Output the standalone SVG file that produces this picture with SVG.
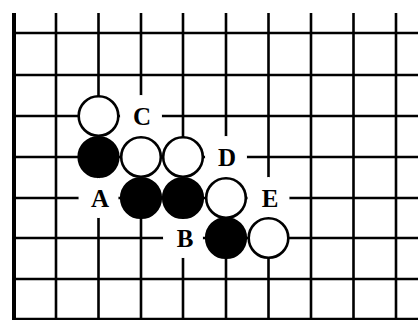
<svg xmlns="http://www.w3.org/2000/svg" width="418" height="320" viewBox="0 0 418 320">
<style>
.g{stroke:#000;stroke-width:2.6;fill:none}
.edge{stroke:#000;stroke-width:4;fill:none}
.w{fill:#fff;stroke:#000;stroke-width:2.6}
.b{fill:#000;stroke:#000;stroke-width:2.6}
.m{fill:#fff;stroke:none}
.t{font-family:"Liberation Serif","Times New Roman",serif;font-weight:bold;font-size:25px;text-anchor:middle;fill:#000}
</style>
<rect width="418" height="320" fill="#fff"/>
<g id="grid">
<line class="edge" x1="14" y1="13" x2="14" y2="320"/>
<line class="g" x1="56" y1="13" x2="56" y2="320"/>
<line class="g" x1="98.5" y1="13" x2="98.5" y2="320"/>
<line class="g" x1="141" y1="13" x2="141" y2="320"/>
<line class="g" x1="183" y1="13" x2="183" y2="320"/>
<line class="g" x1="226" y1="13" x2="226" y2="320"/>
<line class="g" x1="268.5" y1="13" x2="268.5" y2="320"/>
<line class="g" x1="311" y1="13" x2="311" y2="320"/>
<line class="g" x1="353.5" y1="13" x2="353.5" y2="320"/>
<line class="g" x1="396" y1="13" x2="396" y2="320"/>
<line class="g" x1="14" y1="33" x2="418" y2="33"/>
<line class="g" x1="14" y1="75" x2="418" y2="75"/>
<line class="g" x1="14" y1="116" x2="418" y2="116"/>
<line class="g" x1="14" y1="157" x2="418" y2="157"/>
<line class="g" x1="14" y1="198" x2="418" y2="198"/>
<line class="g" x1="14" y1="238" x2="418" y2="238"/>
<line class="g" x1="14" y1="279" x2="418" y2="279"/>
<line class="g" x1="14" y1="319" x2="418" y2="319"/>
</g>
<g id="label-C"><circle class="m" cx="141" cy="116" r="21"/><text class="t" x="142" y="124.5">C</text></g>
<g id="label-D"><circle class="m" cx="226" cy="157" r="21"/><text class="t" x="227" y="165.5">D</text></g>
<g id="label-A"><circle class="m" cx="98.5" cy="198" r="20"/><text class="t" x="100" y="206.5">A</text></g>
<g id="label-E"><circle class="m" cx="268.5" cy="198" r="21"/><text class="t" x="270" y="206.5">E</text></g>
<g id="label-B"><circle class="m" cx="183" cy="238" r="20"/><text class="t" x="185" y="246.5">B</text></g>
<g id="w1"><circle class="w" cx="98.5" cy="116" r="19.8"/></g>
<g id="b1"><circle class="b" cx="98.5" cy="157" r="19.8"/></g>
<g id="w2"><circle class="w" cx="141" cy="157" r="19.8"/></g>
<g id="w3"><circle class="w" cx="183" cy="157" r="19.8"/></g>
<g id="b2"><circle class="b" cx="141" cy="198" r="19.8"/></g>
<g id="b3"><circle class="b" cx="183" cy="198" r="19.8"/></g>
<g id="w4"><circle class="w" cx="226" cy="198" r="19.8"/></g>
<g id="b4"><circle class="b" cx="226" cy="238" r="19.8"/></g>
<g id="w5"><circle class="w" cx="268.5" cy="238" r="19.8"/></g>
</svg>
